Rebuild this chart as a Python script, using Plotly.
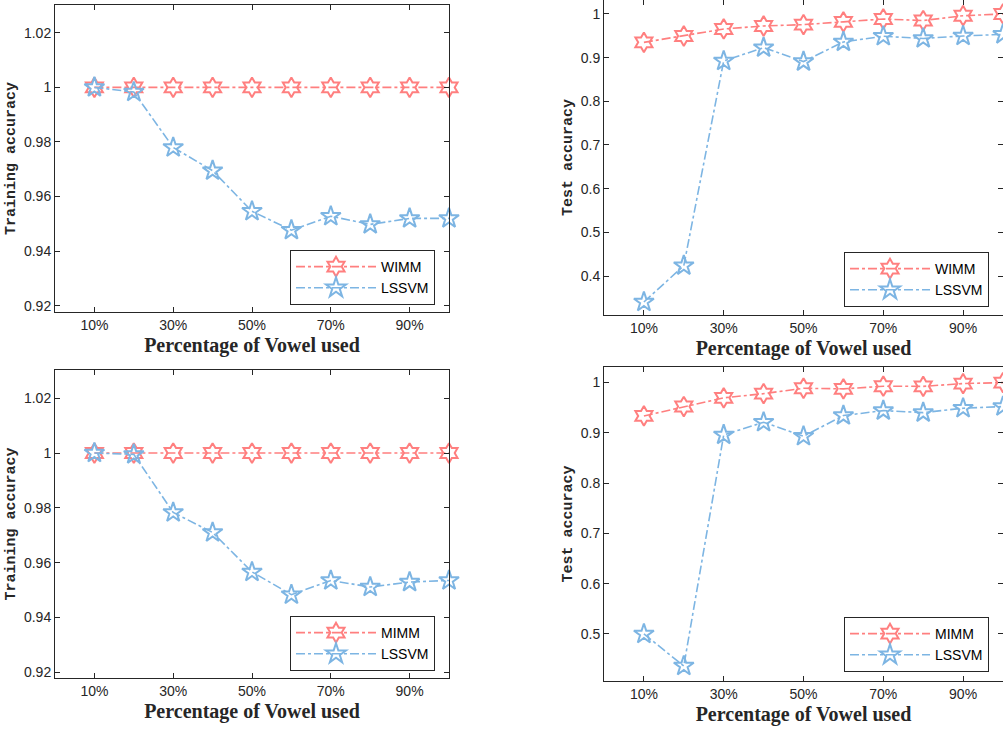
import plotly.graph_objects as go

pct = [10, 20, 30, 40, 50, 60, 70, 80, 90, 100]
tick_vals = [10, 30, 50, 70, 90]
tick_text = ["10%", "30%", "50%", "70%", "90%"]

# top-left: training accuracy
tl_wimm = [1, 1, 1, 1, 1, 1, 1, 1, 1, 1]
tl_lssvm = [1.0, 0.9983, 0.978, 0.9695, 0.9546, 0.9477, 0.9528, 0.9498, 0.952, 0.952]
# top-right: test accuracy
tr_wimm = [0.935, 0.9496, 0.9657, 0.9725, 0.9756, 0.982, 0.9885, 0.985, 0.996, 1.0]
tr_lssvm = [0.3405, 0.4237, 0.8924, 0.9229, 0.891, 0.936, 0.949, 0.944, 0.9496, 0.9534]
# bottom-left: training accuracy
bl_mimm = [1, 1, 1, 1, 1, 1, 1, 1, 1, 1]
bl_lssvm = [1.0, 0.9995, 0.9783, 0.971, 0.9566, 0.9483, 0.9535, 0.9511, 0.9529, 0.9535]
# bottom-right: test accuracy
br_mimm = [0.9337, 0.9523, 0.9696, 0.978, 0.9887, 0.9875, 0.9928, 0.9925, 0.998, 1.0]
br_lssvm = [0.5, 0.4364, 0.896, 0.9211, 0.8933, 0.9344, 0.9443, 0.9403, 0.949, 0.9523]

RED = "#FF7F7F"
BLUE = "#7DB5E3"
AX = "#262626"

W, H = 1003, 730

def px_x(a, b):
    return [a / W, b / W]

def px_y(top, bottom):
    return [1 - bottom / H, 1 - top / H]

panels = [
    dict(xa="x", ya="y", dx=px_x(55, 449), dy=px_y(5, 312), yr=[0.9177, 1.0302],
         yt=[0.92, 0.94, 0.96, 0.98, 1.0, 1.02], ytt=["0.92", "0.94", "0.96", "0.98", "1", "1.02"],
         ytitle="Training accuracy", names=["WIMM", "LSSVM"], data=[tl_wimm, tl_lssvm],
         leg="legend", lx=290, ly=250),
    dict(xa="x2", ya="y2", dx=px_x(604, 1003), dy=px_y(0, 315), yr=[0.3107, 1.032],
         yt=[0.4, 0.5, 0.6, 0.7, 0.8, 0.9, 1.0], ytt=["0.4", "0.5", "0.6", "0.7", "0.8", "0.9", "1"],
         ytitle="Test accuracy", names=["WIMM", "LSSVM"], data=[tr_wimm, tr_lssvm],
         leg="legend2", lx=844, ly=252),
    dict(xa="x3", ya="y3", dx=px_x(55, 449), dy=px_y(370, 678), yr=[0.9179, 1.0303],
         yt=[0.92, 0.94, 0.96, 0.98, 1.0, 1.02], ytt=["0.92", "0.94", "0.96", "0.98", "1", "1.02"],
         ytitle="Training accuracy", names=["MIMM", "LSSVM"], data=[bl_mimm, bl_lssvm],
         leg="legend3", lx=290, ly=616),
    dict(xa="x4", ya="y4", dx=px_x(604, 1003), dy=px_y(367, 681), yr=[0.4065, 1.031],
         yt=[0.5, 0.6, 0.7, 0.8, 0.9, 1.0], ytt=["0.5", "0.6", "0.7", "0.8", "0.9", "1"],
         ytitle="Test accuracy", names=["MIMM", "LSSVM"], data=[br_mimm, br_lssvm],
         leg="legend4", lx=844, ly=617),
]

fig = go.Figure()
layout = dict(
    width=W, height=H, margin=dict(l=0, r=0, t=0, b=0, autoexpand=False),
    paper_bgcolor="white", plot_bgcolor="white", showlegend=True,
)

for i, p in enumerate(panels):
    for j, (name, vals) in enumerate(zip(p["names"], p["data"])):
        color = RED if j == 0 else BLUE
        symbol = "hexagram-open" if j == 0 else "star-open"
        fig.add_trace(go.Scatter(
            x=pct, y=vals, mode="lines+markers", name=name,
            xaxis=p["xa"], yaxis=p["ya"], legend=p["leg"],
            line=dict(color=color, width=1.6, dash="dashdot"),
            marker=dict(symbol=symbol, size=15, color=color, line=dict(width=2, color=color)),
            cliponaxis=False,
        ))
    xkey = "xaxis" if i == 0 else f"xaxis{i+1}"
    ykey = "yaxis" if i == 0 else f"yaxis{i+1}"
    layout[xkey] = dict(
        domain=p["dx"], anchor=p["ya"], range=[0, 100], automargin=False,
        tickvals=tick_vals, ticktext=tick_text, ticks="inside", ticklen=5,
        tickcolor=AX, showline=True, linecolor=AX, linewidth=1, mirror="ticks",
        showgrid=False, zeroline=False,
        tickfont=dict(family="Liberation Sans", size=14, color=AX),
        title=dict(text="<b>Percentage of Vowel used</b>", standoff=6,
                   font=dict(family="Liberation Serif", size=20, color=AX)),
    )
    layout[ykey] = dict(
        domain=p["dy"], anchor=p["xa"], range=p["yr"], automargin=False,
        tickvals=p["yt"], ticktext=p["ytt"], ticks="inside", ticklen=5,
        tickcolor=AX, showline=True, linecolor=AX, linewidth=1, mirror="ticks",
        showgrid=False, zeroline=False,
        tickfont=dict(family="Liberation Sans", size=14, color=AX),
        title=dict(text="<b>" + p["ytitle"] + "</b>", standoff=4,
                   font=dict(family="Liberation Mono", size=15, color=AX)),
    )
    layout[p["leg"]] = dict(
        x=p["lx"] / W, y=1 - p["ly"] / H, xanchor="left", yanchor="top",
        bgcolor="white", bordercolor=AX, borderwidth=1,
        font=dict(family="Liberation Sans", size=14, color="black"),
        itemwidth=80, tracegroupgap=0,
    )

fig.update_layout(**layout)
fig.write_html("out.html", config={"displayModeBar": False},
               post_script="document.body.style.margin='0';document.body.style.overflow='hidden';")
